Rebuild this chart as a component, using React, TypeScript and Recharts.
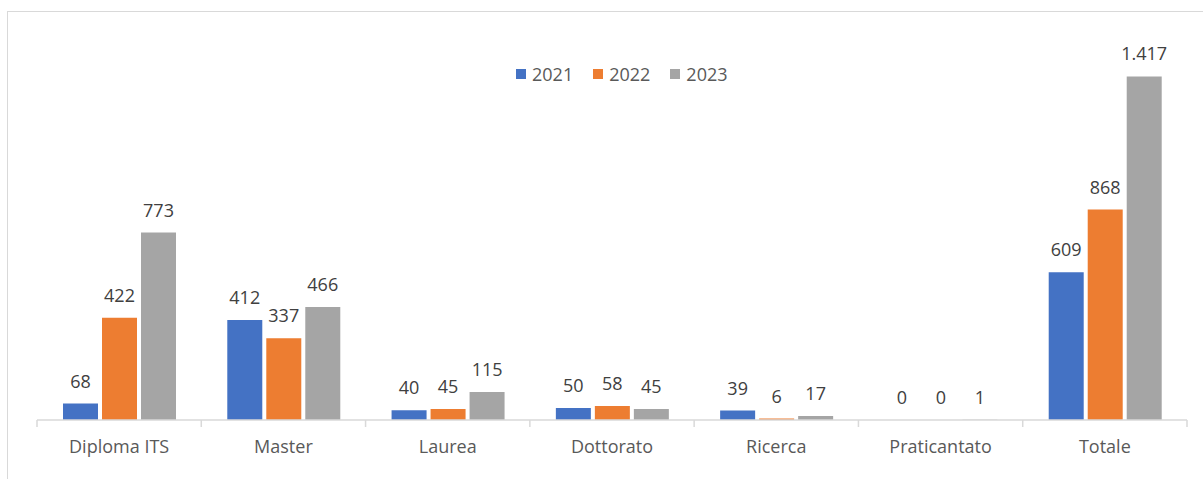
import React from 'react';
import { BarChart, Bar, XAxis, YAxis, LabelList } from 'recharts';

const categories = ['Diploma ITS', 'Master', 'Laurea', 'Dottorato', 'Ricerca', 'Praticantato', 'Totale'];
const y2021 = [68, 412, 40, 50, 39, 0, 609];
const y2022 = [422, 337, 45, 58, 6, 0, 868];
const y2023 = [773, 466, 115, 45, 17, 1, 1417];

const series = [
  { key: 'y2021', name: '2021', color: '#4472C4' },
  { key: 'y2022', name: '2022', color: '#ED7D31' },
  { key: 'y2023', name: '2023', color: '#A5A5A5' },
];

const data = categories.map((c, i) => ({
  name: c, y2021: y2021[i], y2022: y2022[i], y2023: y2023[i],
}));

const FONT = "'Open Sans', sans-serif";
const AXIS = '#d9d9d9';

// thousands separator with a dot, Italian style
const fmt = (v: number) => String(v).replace(/\B(?=(\d{3})+(?!\d))/g, '.');

// category label plus tick marks on the category boundaries
const EdgeTick = (props: any) => {
  const { x, y, payload, index, visibleTicksCount } = props;
  const half = payload?.offset || 82.14;
  return (
    <g>
      <line x1={x - half} x2={x - half} y1={y} y2={y + 7} stroke={AXIS} strokeWidth={1.5} />
      {index === visibleTicksCount - 1 && (
        <line x1={x + half} x2={x + half} y1={y} y2={y + 7} stroke={AXIS} strokeWidth={1.5} />
      )}
      <text x={x} y={y + 33} textAnchor="middle" fill="#595959" fontSize={18} fontFamily={FONT}>
        {payload.value}
      </text>
    </g>
  );
};

const ValueLabel = (props: any) => {
  const { x, y, width, value } = props;
  return (
    <text x={x + width / 2} y={y - 16} textAnchor="middle" fill="#404040" fontSize={18} fontFamily={FONT}>
      {fmt(Math.round(Number(value)))}
    </text>
  );
};

export default function App() {
  return (
    <div style={{ position: 'fixed', left: 0, top: 0, width: 1203, height: 479, overflow: 'hidden', background: '#fff' }}>
      <div style={{ position: 'absolute', left: 7, top: 11, width: 1220, height: 500, border: '1px solid #d9d9d9' }} />

      {/* legend */}
      <div style={{ position: 'absolute', top: 62, left: 516, display: 'flex', gap: 20, fontFamily: FONT, fontSize: 18, color: '#595959' }}>
        {series.map(s => (
          <div key={s.key} style={{ display: 'flex', alignItems: 'center', gap: 6 }}>
            <span style={{ width: 10, height: 10, background: s.color, display: 'inline-block' }} />
            <span>{s.name}</span>
          </div>
        ))}
      </div>

      <div style={{ position: 'absolute', left: 0, top: 0 }}>
        <BarChart width={1203} height={479} data={data} barSize={35} barGap={4}
          margin={{ top: 32, right: 16, left: 37, bottom: 0 }}>
          <XAxis dataKey="name" axisLine={{ stroke: AXIS, strokeWidth: 1.5 }} tickLine={false}
            tick={<EdgeTick />} tickSize={0} tickMargin={0} interval={0} height={59} />
          <YAxis hide domain={[0, 1600]} />
          {series.map(s => (
            // tiny minPointSize keeps zero bars in the layout so their "0" label is drawn
            <Bar key={s.key} dataKey={s.key} name={s.name} fill={s.color} minPointSize={0.01} isAnimationActive={false}>
              <LabelList dataKey={s.key} content={<ValueLabel />} />
            </Bar>
          ))}
        </BarChart>
      </div>
    </div>
  );
}
